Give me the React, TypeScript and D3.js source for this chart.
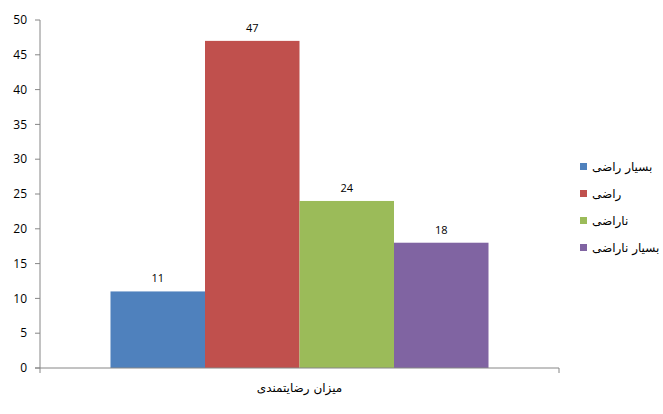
import React from "react";
import * as d3 from "d3";

const category = ["میزان رضایتمندی"];
const seriesNames = ["بسیار راضی", "راضی", "ناراضی", "بسیار ناراضی"];
const seriesValues = [11, 47, 24, 18];
const seriesColors = ["#4F81BD", "#C0504D", "#9BBB59", "#8064A2"];
const yTicks = [0, 5, 10, 15, 20, 25, 30, 35, 40, 45, 50];

const W = 663;
const H = 414;
const plot = { left: 40, right: 559, top: 20, bottom: 368 };
const numFont = "'Open Sans', 'Liberation Sans', sans-serif";
const faFont = "'DejaVu Sans', sans-serif";

export default function App() {
  const y = d3.scaleLinear().domain([0, 50]).range([plot.bottom, plot.top]);
  const x0 = d3
    .scaleBand<string>()
    .domain(category)
    .range([plot.left, plot.right])
    .paddingInner(0)
    .paddingOuter(0.1865);
  const x1 = d3
    .scaleBand<string>()
    .domain(seriesNames)
    .range([0, x0.bandwidth()])
    .padding(0);

  const axisColor = "#868686";
  const legendX = 580;
  const legendY0 = 167;
  const legendStep = 27;

  return (
    <svg
      width={W}
      height={H}
      style={{ position: "absolute", left: 0, top: 0, background: "#fff" }}
    >
      <rect x={0} y={0} width={W} height={H} fill="#fff" />
      {category.map((c) => (
        <g key={c} transform={`translate(${x0(c)},0)`}>
          {seriesNames.map((s, i) => (
            <g key={s}>
              <rect
                x={x1(s)}
                y={y(seriesValues[i])}
                width={x1.bandwidth()}
                height={y(0) - y(seriesValues[i])}
                fill={seriesColors[i]}
              />
              <text
                x={(x1(s) as number) + x1.bandwidth() / 2}
                y={y(seriesValues[i]) - 9}
                textAnchor="middle"
                fontFamily={numFont}
                fontSize={11}
                fill="#000"
              >
                {seriesValues[i]}
              </text>
            </g>
          ))}
        </g>
      ))}
      {/* y axis */}
      <line x1={plot.left} x2={plot.left} y1={plot.top} y2={plot.bottom} stroke={axisColor} strokeWidth={1} />
      {yTicks.map((t) => (
        <g key={t}>
          <line x1={plot.left - 5} x2={plot.left} y1={y(t)} y2={y(t)} stroke={axisColor} />
          <text
            x={plot.left - 13}
            y={y(t)}
            dy="0.35em"
            textAnchor="end"
            fontFamily={numFont}
            fontSize={12}
            fill="#000"
          >
            {t}
          </text>
        </g>
      ))}
      {/* x axis */}
      <line x1={plot.left - 5} x2={plot.right} y1={plot.bottom} y2={plot.bottom} stroke={axisColor} />
      <line x1={plot.left} x2={plot.left} y1={plot.bottom} y2={plot.bottom + 5} stroke={axisColor} />
      <line x1={plot.right} x2={plot.right} y1={plot.bottom} y2={plot.bottom + 5} stroke={axisColor} />
      {category.map((c) => (
        <text
          key={c}
          x={(x0(c) as number) + x0.bandwidth() / 2}
          y={392}
          textAnchor="middle"
          fontFamily={faFont}
          fontSize={12}
          fill="#000"
        >
          {c}
        </text>
      ))}
      {/* legend */}
      {seriesNames.map((s, i) => (
        <g key={s} transform={`translate(${legendX},${legendY0 + i * legendStep})`}>
          <rect x={0} y={-4} width={7} height={7} fill={seriesColors[i]} />
          <text x={12} y={0} dy="0.35em" fontFamily={faFont} fontSize={12} fill="#000">
            {s}
          </text>
        </g>
      ))}
    </svg>
  );
}
